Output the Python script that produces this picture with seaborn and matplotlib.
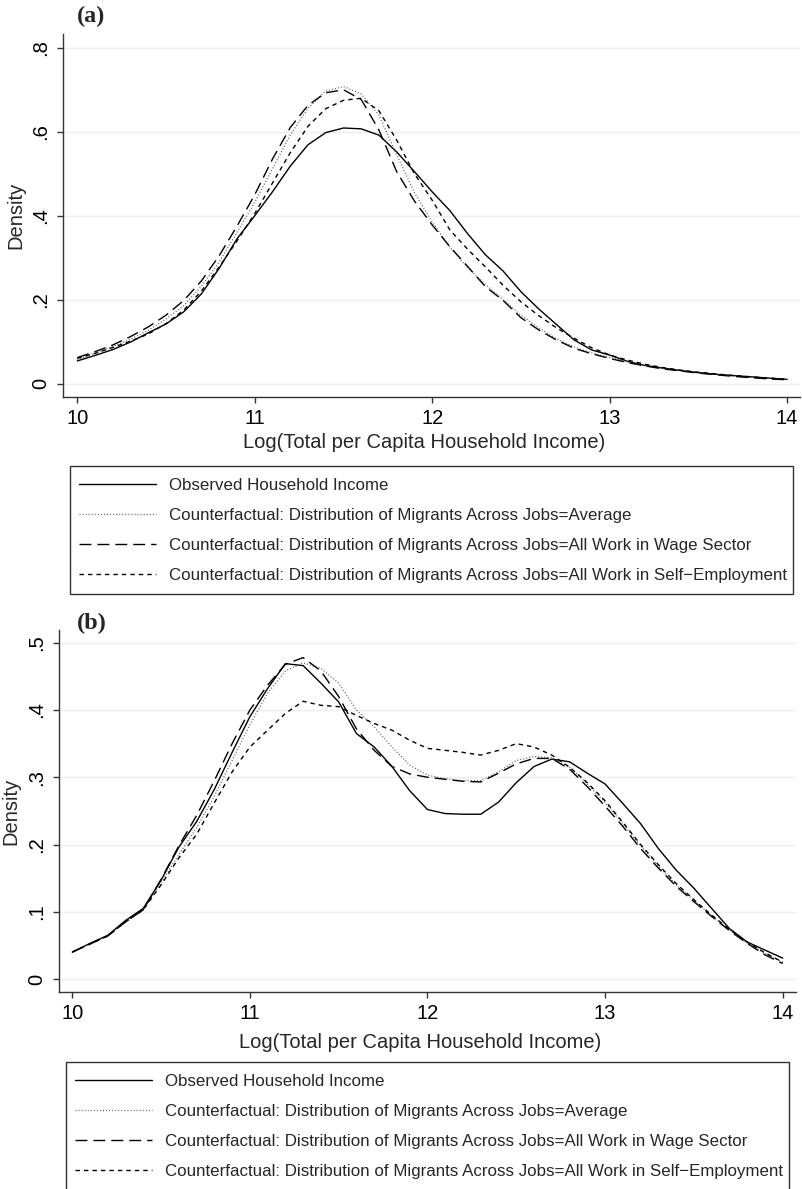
import numpy as np
import pandas as pd
import matplotlib
matplotlib.use("Agg")
import matplotlib.pyplot as plt
from matplotlib.patches import Rectangle
import seaborn as sns

# ---------------- data ----------------
X = [10.0, 10.1, 10.2, 10.3, 10.4, 10.5, 10.6, 10.7, 10.8, 10.9,
     11.0, 11.1, 11.2, 11.3, 11.4, 11.5, 11.6, 11.7, 11.8, 11.9,
     12.0, 12.1, 12.2, 12.3, 12.4, 12.5, 12.6, 12.7, 12.8, 12.9,
     13.0, 13.1, 13.2, 13.3, 13.4, 13.5, 13.6, 13.7, 13.8, 13.9, 14.0]

A_OBS = [0.054, 0.067, 0.081, 0.099, 0.121, 0.142, 0.171, 0.214, 0.275, 0.345,
         0.400, 0.457, 0.518, 0.569, 0.598, 0.609, 0.607, 0.592, 0.552, 0.505,
         0.457, 0.412, 0.357, 0.307, 0.268, 0.219, 0.178, 0.141, 0.104, 0.080,
         0.068, 0.053, 0.043, 0.037, 0.031, 0.026, 0.022, 0.019, 0.016, 0.013, 0.010]
A_AVG = [0.058, 0.072, 0.088, 0.106, 0.127, 0.154, 0.186, 0.232, 0.290, 0.360,
         0.432, 0.512, 0.592, 0.656, 0.697, 0.708, 0.690, 0.640, 0.545, 0.455,
         0.385, 0.325, 0.276, 0.236, 0.200, 0.163, 0.133, 0.107, 0.087, 0.073,
         0.062, 0.052, 0.044, 0.036, 0.031, 0.026, 0.022, 0.018, 0.015, 0.012, 0.010]
A_WAGE = [0.062, 0.076, 0.092, 0.112, 0.135, 0.163, 0.198, 0.245, 0.305, 0.375,
          0.450, 0.535, 0.610, 0.663, 0.693, 0.700, 0.677, 0.604, 0.505, 0.435,
          0.378, 0.326, 0.279, 0.231, 0.198, 0.157, 0.128, 0.104, 0.084, 0.071,
          0.060, 0.050, 0.042, 0.035, 0.030, 0.025, 0.021, 0.017, 0.014, 0.011, 0.009]
A_SELF = [0.060, 0.072, 0.086, 0.101, 0.118, 0.143, 0.175, 0.221, 0.278, 0.340,
          0.405, 0.478, 0.550, 0.613, 0.655, 0.675, 0.680, 0.650, 0.580, 0.500,
          0.437, 0.366, 0.320, 0.278, 0.234, 0.195, 0.162, 0.133, 0.108, 0.085,
          0.068, 0.056, 0.046, 0.038, 0.032, 0.027, 0.023, 0.019, 0.016, 0.013, 0.010]

B_OBS = [0.040, 0.053, 0.065, 0.087, 0.105, 0.147, 0.196, 0.234, 0.282, 0.337,
         0.390, 0.432, 0.469, 0.466, 0.440, 0.412, 0.365, 0.345, 0.316, 0.280,
         0.252, 0.246, 0.245, 0.245, 0.263, 0.292, 0.316, 0.327, 0.323, 0.306,
         0.290, 0.261, 0.231, 0.194, 0.162, 0.135, 0.105, 0.075, 0.055, 0.043, 0.031]
B_AVG = [0.040, 0.052, 0.064, 0.085, 0.103, 0.143, 0.185, 0.225, 0.272, 0.325,
         0.378, 0.425, 0.458, 0.470, 0.462, 0.440, 0.400, 0.375, 0.345, 0.318,
         0.303, 0.298, 0.295, 0.295, 0.308, 0.325, 0.331, 0.329, 0.315, 0.290,
         0.262, 0.231, 0.198, 0.168, 0.140, 0.117, 0.094, 0.073, 0.054, 0.038, 0.025]
B_WAGE = [0.040, 0.052, 0.064, 0.085, 0.103, 0.148, 0.198, 0.243, 0.295, 0.350,
          0.400, 0.437, 0.468, 0.478, 0.458, 0.420, 0.372, 0.340, 0.316, 0.305,
          0.300, 0.297, 0.294, 0.293, 0.306, 0.320, 0.328, 0.328, 0.312, 0.286,
          0.257, 0.227, 0.194, 0.165, 0.138, 0.115, 0.093, 0.072, 0.053, 0.036, 0.023]
B_SELF = [0.040, 0.052, 0.064, 0.085, 0.103, 0.140, 0.180, 0.215, 0.262, 0.308,
          0.345, 0.370, 0.395, 0.413, 0.407, 0.405, 0.392, 0.380, 0.370, 0.355,
          0.343, 0.340, 0.337, 0.333, 0.340, 0.350, 0.345, 0.333, 0.315, 0.292,
          0.265, 0.233, 0.200, 0.170, 0.142, 0.118, 0.095, 0.074, 0.055, 0.039, 0.025]

LABELS = ["Observed Household Income",
          "Counterfactual: Distribution of Migrants Across Jobs=Average",
          "Counterfactual: Distribution of Migrants Across Jobs=All Work in Wage Sector",
          "Counterfactual: Distribution of Migrants Across Jobs=All Work in Self\u2212Employment"]

X_TICKS = [10, 11, 12, 13, 14]
A_YTICKS = [0, 0.2, 0.4, 0.6, 0.8]
A_YTICKLABELS = ["0", ".2", ".4", ".6", ".8"]
B_YTICKS = [0, 0.1, 0.2, 0.3, 0.4, 0.5]
B_YTICKLABELS = ["0", ".1", ".2", ".3", ".4", ".5"]
X_LABEL = "Log(Total per Capita Household Income)"
Y_LABEL = "Density"

# ---------------- style ----------------
sns.set_style("ticks")
plt.rcParams["font.family"] = ["Liberation Sans", "DejaVu Sans"]
plt.rcParams["lines.scale_dashes"] = False

W, H = 802, 1189
fig = plt.figure(figsize=(W / 100, H / 100), dpi=100)

STYLES = [
    dict(color="black", lw=1.0, linestyle="-"),
    dict(color="#555555", lw=0.9, linestyle=(0, (0.7, 1.5))),
    dict(color="black", lw=1.0, linestyle=(0, (8.6, 4.3))),
    dict(color="black", lw=1.0, linestyle=(0, (3.2, 2.9))),
]

SPINE = "#333333"


def px_rect(l, t, r, b):
    return [l / W, 1 - b / H, (r - l) / W, (b - t) / H]


def panel(rect, series, yticks, yticklabels, xlim, ylim, letter, letter_y,
          ylab_x, xlab_y, box, first_row, handle_x):
    ax = fig.add_axes(px_rect(*rect))
    for ys, lab, st in zip(series, LABELS, STYLES):
        df = pd.DataFrame({"x": X, "y": ys})
        sns.lineplot(data=df, x="x", y="y", ax=ax, label=lab, legend=False,
                     **st)
    ax.set_xlim(*xlim)
    ax.set_ylim(*ylim)
    ax.set_xticks(X_TICKS)
    ax.set_xticklabels([str(t) for t in X_TICKS])
    ax.set_yticks(yticks)
    ax.set_yticklabels(yticklabels, rotation=90, va="center")
    ax.tick_params(axis="both", labelsize=14.5, length=4.3, width=1.0,
                   color=SPINE, direction="out", labelcolor="black")
    ax.tick_params(axis="x", pad=4)
    ax.tick_params(axis="y", pad=5)
    ax.yaxis.grid(True, color="#efefef", lw=1.0)
    ax.xaxis.grid(False)
    sns.despine(ax=ax)
    for s in ("left", "bottom"):
        ax.spines[s].set_color(SPINE)
        ax.spines[s].set_linewidth(1.0)
    ax.set_xlabel(X_LABEL, fontsize=14.5)
    ax.set_ylabel(Y_LABEL, fontsize=14.5)
    ax.yaxis.set_label_coords(ylab_x, 0.5)
    ax.xaxis.set_label_coords(0.49, xlab_y)
    fig.text(77 / W, 1 - letter_y / H, letter, fontsize=17.5,
             fontweight="bold", family=["Liberation Serif", "DejaVu Serif"],
             ha="left", va="center")
    # legend box
    bl, bt, br, bb = box
    fig.patches.append(Rectangle((bl / W, 1 - bb / H), (br - bl) / W,
                                 (bb - bt) / H, transform=fig.transFigure,
                                 fill=False, edgecolor=SPINE, lw=1.0,
                                 zorder=5))
    handles = ax.get_lines()[:4]
    leg = ax.legend(handles, LABELS, loc="upper left",
                    bbox_to_anchor=(handle_x / W, 1 - (first_row - 7.5) / H),
                    bbox_transform=fig.transFigure,
                    borderaxespad=0, borderpad=0, fontsize=12.2, frameon=False,
                    labelspacing=0.88, handlelength=4.55, handletextpad=0.78)
    return ax


panel((63.3, 34, 800, 397), [A_OBS, A_AVG, A_WAGE, A_SELF],
      A_YTICKS, A_YTICKLABELS, (9.921, 14.073), (-0.032, 0.833),
      "(a)", 16.5, -0.052, -0.10, (70.3, 465.7, 793.3, 594), 485.7, 79)
panel((59.3, 630, 796, 992.3), [B_OBS, B_AVG, B_WAGE, B_SELF],
      B_YTICKS, B_YTICKLABELS, (9.927, 14.075), (-0.0198, 0.519),
      "(b)", 623, -0.0533, -0.112, (66.3, 1061.7, 789, 1195), 1081.7, 75)

fig.savefig("out.png", dpi=100)
